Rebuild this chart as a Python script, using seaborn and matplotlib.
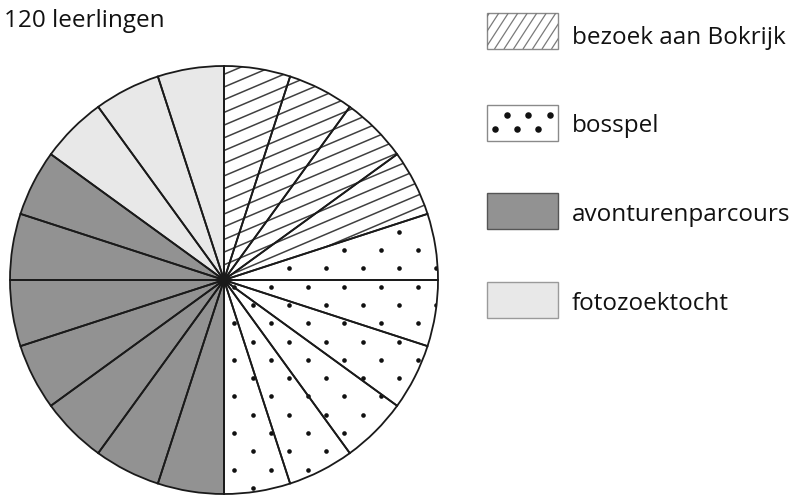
import numpy as np
import matplotlib
matplotlib.use("Agg")
import matplotlib.pyplot as plt
from matplotlib.patches import Wedge, Rectangle
from matplotlib.collections import LineCollection
import seaborn as sns

# Activities chosen by the pupils (number of pupils per activity)
categories = ["bezoek aan Bokrijk", "bosspel", "avonturenparcours", "fotozoektocht"]
students = [24, 36, 42, 18]
group_size = 6  # every wedge of the circle stands for one group of pupils
title = f"{sum(students)} leerlingen"

fills = ["white", "white", "#929292", "#e8e8e8"]
patterns = ["hatch", "dots", None, None]

sns.set_theme(style="white")
plt.rcParams["font.family"] = ["Open Sans", "DejaVu Sans"]

W, H = 798, 495
fig = plt.figure(figsize=(W / 100, H / 100), dpi=100)
ax = fig.add_axes([0, 0, 1, 1])


def Y(y):
    """Convert a top-down pixel row into the upward data axis."""
    return H - y


cx, cy, R = 224, Y(280), 214

# one wedge per group
slice_values, slice_colors, slice_cat = [], [], []
for i, (n, c) in enumerate(zip(students, fills)):
    k = n // group_size
    slice_values += [group_size] * k
    slice_colors += [c] * k
    slice_cat += [i] * k

wedges, _ = ax.pie(slice_values, colors=slice_colors, startangle=90,
                   counterclock=False, radius=R, center=(cx, cy),
                   wedgeprops=dict(linewidth=0), frame=True)

# sector covering each activity, used to clip the fill patterns
sectors = []
for i in range(len(categories)):
    ws = [w for w, c in zip(wedges, slice_cat) if c == i]
    t1 = min(w.theta1 for w in ws)
    t2 = max(w.theta2 for w in ws)
    sec = Wedge((cx, cy), R, t1, t2, facecolor="none", edgecolor="none")
    ax.add_patch(sec)
    sectors.append(sec)

# diagonal hatching
ang = np.deg2rad(23)
xs = np.array([cx - R - 20, cx + R + 20])
segs = []
for b in np.arange(Y(112) - 40 * 12.7, Y(112) + 40 * 12.7, 12.7):
    ys = b + np.tan(ang) * (xs - 225)
    segs.append(np.column_stack([xs, ys]))
hatch_lc = LineCollection(segs, colors="#404040", linewidths=1.1, zorder=2)
ax.add_collection(hatch_lc)
hatch_lc.set_clip_path(sectors[patterns.index("hatch")])

# staggered dot grid
dx, dy = 36.7, 18.3
px, py = [], []
for k in range(-20, 20):
    yrow = 231.7 + dy * k
    x0 = 344.3 if k % 2 else 326.0
    for n in range(-15, 15):
        px.append(x0 + dx * n)
        py.append(Y(yrow))
dots = ax.scatter(px, py, s=11, color="#111111", linewidths=0, zorder=2)
dots.set_clip_path(sectors[patterns.index("dots")])

# wedge outlines on top
ax.pie(slice_values, colors=["none"] * len(slice_values), startangle=90,
       counterclock=False, radius=R, center=(cx, cy),
       wedgeprops=dict(linewidth=1.3, edgecolor="#1a1a1a", zorder=3), frame=True)

# title
ax.text(4, Y(27), title, fontsize=17.5, color="#111111", ha="left",
        va="baseline")

# legend
box_x, box_w, box_h = 487, 71, 36
box_top = [13, 105, 193, 282]
text_base = [44, 132, 221, 310]
for i, name in enumerate(categories):
    top = box_top[i]
    if patterns[i] == "hatch":
        rect = Rectangle((box_x, Y(top + box_h)), box_w, box_h,
                         facecolor="white", edgecolor="#8a8a8a", lw=1.0, zorder=3)
        ax.add_patch(rect)
        lsegs = []
        slope = np.tan(np.deg2rad(57))
        for x0 in np.arange(box_x - 40, box_x + box_w + 10, 9.5):
            lsegs.append([(x0, Y(top + box_h)), (x0 + box_h / slope, Y(top))])
        lc = LineCollection(lsegs, colors="#7a7a7a", linewidths=0.9, zorder=3)
        ax.add_collection(lc)
        lc.set_clip_path(rect)
    elif patterns[i] == "dots":
        rect = Rectangle((box_x, Y(top + box_h)), box_w, box_h,
                         facecolor="white", edgecolor="#8a8a8a", lw=1.0, zorder=3)
        ax.add_patch(rect)
        bx = box_x + np.array([8, 29.7, 51.3])
        ax.scatter(bx + 11.5, [Y(top + 9.5)] * 3, s=22, color="#111111",
                   linewidths=0, zorder=4)
        ax.scatter(bx, [Y(top + 23.5)] * 3, s=22, color="#111111",
                   linewidths=0, zorder=4)
    else:
        edge = "#555555" if patterns[i] is None and i == 2 else "#9a9a9a"
        rect = Rectangle((box_x, Y(top + box_h)), box_w, box_h,
                         facecolor=fills[i], edgecolor=edge, lw=1.0, zorder=3)
        ax.add_patch(rect)
    ax.text(572, Y(text_base[i]), name, fontsize=17.5, color="#111111",
            ha="left", va="baseline")

ax.set_xlim(0, W)
ax.set_ylim(0, H)
ax.set_aspect("auto")
ax.set_axis_off()

fig.savefig("out.png", dpi=100)
